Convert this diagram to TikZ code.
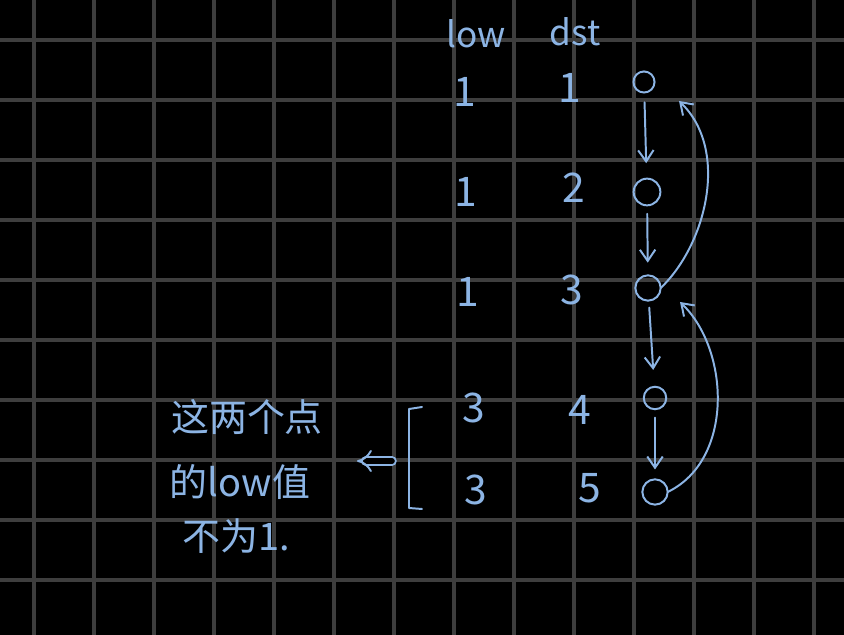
\documentclass[tikz,border=0pt]{standalone}
\usepackage{fontspec}
\setmainfont{Noto Sans CJK SC}
\usetikzlibrary{arrows.meta}
\definecolor{handblue}{RGB}{140,180,228}
\definecolor{gridgray}{RGB}{62,62,62}
\tikzset{
  hand/.style={
    handblue, line width=1.4pt, line cap=round, line join=round
  },
  vertex/.style={
    draw=handblue, line width=1.4pt,
    shape=circle,
    outer sep=0, inner sep=0,
    minimum size=#1
  },
  entry/.style={
    text=handblue, font=\fontsize{25}{30}\selectfont,
    inner sep=0
  },
  digit/.style={
    entry, font=\fontsize{29}{34}\selectfont
  },
  tip/.style={-{Straight Barb[length=8pt,width=11pt]}}
}

\begin{document}
\begin{tikzpicture}[x=0.025cm,y=-0.025cm]

%%%%%%%%% board
\useasboundingbox[fill=black] (0,0) rectangle (844,635);
\foreach \x in {34,94,...,814}
  \draw[gridgray, line width=2.2pt] (\x,0) -- (\x,635);
\foreach \y in {40,100,...,580}
  \draw[gridgray, line width=2.2pt] (0,\y) -- (844,\y);

%%%%%%%%% table head
\node[entry] (hlow) at (476,34) {low};
\node[entry] (hdst) at (575,32) {dst};

%%%%%%%%% low and dst values
\foreach[count=\i] \v/\x/\y in {1/465/92, 1/466/192, 1/468/292, 3/474/408, 3/476/490}
  \node[digit] (low\i) at (\x,\y) {\v};
\foreach[count=\i] \v/\x/\y in {1/570/88, 2/574/188, 3/572/290, 4/580/410, 5/590/488}
  \node[digit] (dst\i) at (\x,\y) {\v};

%%%%%%%%% vertices
\node[vertex=15pt] (c1) at (644,82) {};
\node[vertex=19pt] (c2) at (647,192) {};
\node[vertex=18pt] (c3) at (648,288) {};
\node[vertex=16pt] (c4) at (655,398) {};
\node[vertex=18pt] (c5) at (655,492) {};

%%%%%%%%% tree edges
\draw[hand, tip, shorten <=7pt, shorten >=11pt] (c1) -- (c2);
\draw[hand, tip, shorten <=6pt, shorten >=9pt] (c2) -- (c3);
\draw[hand, tip, shorten <=5pt, shorten >=12pt] (c3) -- (c4);
\draw[hand, tip, shorten <=6pt, shorten >=7pt] (c4) -- (c5);

%%%%%%%%% back edges
\coordinate (back1) at (679,101);
\coordinate (back2) at (680,302);
\draw[hand, tip] (c3.east) .. controls (706,245) and (730,150) .. (back1);
\draw[hand, tip] (c5.east) .. controls (734,460) and (730,350) .. (back2);

%%%%%%%%% bracket and note
\draw[hand] (422,407) -- (409,409) -- (409,508) -- (422,509);
\coordinate (brk) at (392,461);
\coordinate (ptr) at (357,461);
\draw[hand, double=black, double distance=4pt, -{Implies[length=5pt]}] (brk) -- (ptr);

\node[entry, font=\fontsize{27}{32}\selectfont] (note1) at (247,417) {这两个点};
\node[entry, font=\fontsize{27}{32}\selectfont] (note2) at (240,482) {的low值};
\node[entry, font=\fontsize{27}{32}\selectfont] (note3) at (236,536) {不为1.};

\end{tikzpicture}
\end{document}
